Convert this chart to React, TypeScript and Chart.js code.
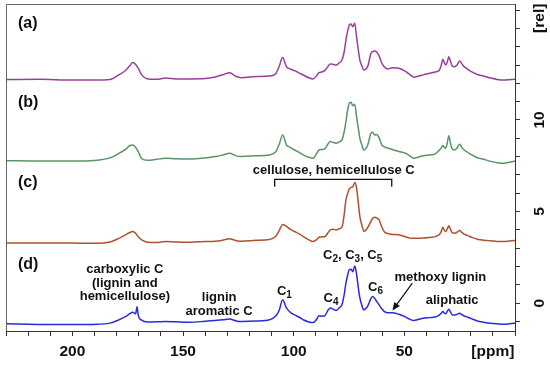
import React, { useEffect, useRef } from 'react';
import { Chart, registerables } from 'chart.js';

Chart.register(...registerables);

const FONT = "'Liberation Sans', Arial, sans-serif";

// chemical shift grid (ppm)
const ppm = [230, 215, 200, 190, 183, 179, 176, 174, 172.7, 171.4, 170.8, 170.2, 168.7, 166, 162, 158, 153, 147, 140, 135.5,
  132, 129, 126, 123.5, 117, 111, 108, 106.5, 105, 103.3, 101.5, 99.6, 97.5, 95.5, 93.5, 91.3, 89.5, 88.6, 87.3, 86,
  84.5, 83.5, 82, 80.8, 79.5, 78.2, 77.2, 76.4, 75.6, 74.9, 74.1, 73.3, 72.4, 71.6, 70.8, 70.1, 69.2, 68.3, 67.3, 66.4,
  65.2, 64.3, 63.4, 62.5, 61.4, 60.2, 59, 57.5, 55.5, 52.5, 49.5, 47.5, 45.7, 43.5, 41.5, 38.5, 36, 34.3, 33.4, 32.6,
  31.9, 31.3, 30.6, 29.9, 29.2, 28.4, 27.3, 26.2, 25, 24, 23, 21.5, 19.5, 17, 14.2, 11, 8, 5, 2.5, 0];

// (a) purple
const traceA = [12.21, 12.22, 12.18, 12.18, 12.21, 12.46, 12.70, 12.97, 13.13, 13.03, 12.92, 12.81, 12.46, 12.24, 12.22, 12.29, 12.24, 12.24, 12.26, 12.35,
  12.47, 12.58, 12.37, 12.31, 12.37, 12.40, 12.54, 12.95, 13.41, 12.91, 12.78, 12.69, 12.56, 12.44, 12.32, 12.24, 12.43, 12.58, 12.62, 12.69,
  12.92, 13.06, 13.03, 13.00, 13.11, 13.27, 13.71, 14.36, 14.86, 15.18, 15.24, 15.09, 15.28, 14.54, 13.82, 13.27, 12.95, 12.73, 12.78, 12.97,
  13.60, 13.74, 13.76, 13.71, 13.49, 13.11, 12.89, 12.78, 12.85, 12.82, 12.65, 12.48, 12.33, 12.40, 12.46, 12.55, 12.62, 12.70, 12.95, 13.31,
  13.11, 13.00, 13.16, 13.45, 13.22, 12.95, 12.91, 13.00, 13.22, 13.06, 12.91, 12.78, 12.62, 12.48, 12.40, 12.29, 12.21, 12.18, 12.20, 12.22];

// (b) green
const traceB = [7.78, 7.76, 7.76, 7.79, 7.93, 8.17, 8.39, 8.61, 8.63, 8.50, 8.39, 8.25, 7.90, 7.80, 7.85, 7.91, 7.88, 7.87, 7.93, 8.00,
  8.09, 8.18, 8.04, 8.01, 8.04, 8.09, 8.28, 8.69, 9.18, 8.64, 8.50, 8.36, 8.23, 8.08, 7.98, 7.91, 8.20, 8.36, 8.39, 8.42,
  8.69, 8.82, 8.77, 8.73, 8.80, 8.91, 9.35, 9.91, 10.55, 10.91, 10.97, 10.78, 10.86, 10.18, 9.56, 9.00, 8.64, 8.36, 8.45, 8.69,
  9.24, 9.33, 9.18, 9.21, 9.02, 8.64, 8.53, 8.47, 8.39, 8.28, 8.18, 8.04, 7.91, 7.98, 8.05, 8.09, 8.15, 8.34, 8.45, 8.60,
  8.50, 8.46, 8.75, 9.14, 8.75, 8.42, 8.36, 8.47, 8.67, 8.50, 8.36, 8.25, 8.09, 7.94, 7.85, 7.74, 7.67, 7.64, 7.69, 7.76];

// (c) brown
const traceC = [3.29, 3.29, 3.28, 3.27, 3.34, 3.54, 3.73, 3.86, 3.91, 3.81, 3.71, 3.62, 3.45, 3.32, 3.31, 3.37, 3.34, 3.33, 3.36, 3.38,
  3.44, 3.51, 3.41, 3.38, 3.43, 3.48, 3.67, 3.97, 4.30, 4.19, 4.03, 3.91, 3.78, 3.62, 3.48, 3.36, 3.48, 3.60, 3.62, 3.63,
  3.84, 4.00, 4.03, 4.00, 4.06, 4.15, 4.82, 5.64, 5.99, 6.24, 6.32, 6.36, 6.58, 6.29, 5.47, 4.72, 4.27, 3.92, 4.00, 4.16,
  4.44, 4.64, 4.69, 4.65, 4.54, 4.16, 3.89, 3.80, 3.75, 3.73, 3.62, 3.55, 3.54, 3.54, 3.55, 3.59, 3.63, 3.73, 3.89, 4.15,
  3.97, 3.91, 4.05, 4.22, 4.05, 3.85, 3.82, 3.87, 3.96, 3.86, 3.77, 3.70, 3.59, 3.49, 3.44, 3.41, 3.37, 3.36, 3.39, 3.42];

// (d) blue
const traceD = [-1.13, -1.16, -1.17, -1.16, -1.09, -0.91, -0.74, -0.57, -0.49, -0.58, -0.19, -0.68, -0.93, -1.03, -1.02, -1.00, -1.02, -1.04, -0.99, -0.95,
  -0.91, -0.86, -0.97, -1.00, -0.98, -0.91, -0.69, -0.37, 0.18, -0.26, -0.50, -0.64, -0.77, -0.92, -1.01, -1.06, -0.86, -0.69, -0.71, -0.69,
  -0.39, -0.27, -0.34, -0.40, -0.26, -0.09, 0.45, 1.09, 1.54, 1.82, 1.85, 1.72, 2.03, 1.60, 0.83, 0.29, -0.12, -0.37, -0.28, -0.12,
  0.23, 0.36, 0.26, 0.10, -0.09, -0.31, -0.46, -0.53, -0.52, -0.61, -0.75, -0.88, -0.95, -0.88, -0.82, -0.79, -0.76, -0.65, -0.56, -0.46,
  -0.55, -0.58, -0.45, -0.33, -0.47, -0.64, -0.65, -0.61, -0.55, -0.63, -0.70, -0.76, -0.86, -0.97, -1.04, -1.10, -1.13, -1.15, -1.12, -1.09];

const seriesNames = ['(a)', '(b)', '(c)', '(d)'];
const seriesColors = ['#96409a', '#5a9466', '#b0502e', '#2a2adc'];

const xTickLabels: Record<number, string> = { 200: '200', 150: '150', 100: '100', 50: '50', 10: '[ppm]' };
const yTickLabels: [number, string][] = [[0, '0'], [5, '5'], [10, '10'], [15.55, '[rel]']];

// annotations in data coordinates (ppm, intensity of baseline)
const annotations: { text: string; x: number; y: number; size: number; align: 'left' | 'center' }[] = [
  { text: '(a)', x: 224.6, y: 15.02, size: 16, align: 'left' },
  { text: '(b)', x: 224.6, y: 10.73, size: 16, align: 'left' },
  { text: '(c)', x: 224.6, y: 6.34, size: 16, align: 'left' },
  { text: '(d)', x: 224.6, y: 1.87, size: 16, align: 'left' },
  { text: 'cellulose, hemicellulose C', x: 81.9, y: 7.03, size: 13, align: 'center' },
  { text: 'carboxylic C', x: 176.3, y: 1.63, size: 13, align: 'center' },
  { text: '(lignin and', x: 176.3, y: 0.89, size: 13, align: 'center' },
  { text: 'hemicellulose)', x: 176.3, y: 0.15, size: 13, align: 'center' },
  { text: 'lignin', x: 133.7, y: 0.10, size: 13, align: 'center' },
  { text: 'aromatic C', x: 133.7, y: -0.67, size: 13, align: 'center' },
  { text: 'C_1', x: 104.2, y: 0.45, size: 13, align: 'center' },
  { text: 'C_4', x: 83.1, y: 0.04, size: 13, align: 'center' },
  { text: 'C_2, C_3, C_5', x: 73.35, y: 2.39, size: 13, align: 'center' },
  { text: 'C_6', x: 63.0, y: 0.67, size: 13, align: 'center' },
  { text: 'methoxy lignin', x: 33.7, y: 1.22, size: 13, align: 'center' },
  { text: 'aliphatic', x: 28.4, y: -0.04, size: 13, align: 'center' },
];
const bracket = { from: 108.6, to: 55.7, top: 6.76, bottom: 6.36 };
const arrow = { x1: 46.4, y1: 1.09, x2: 55.4, y2: -0.40 };

function drawRich(ctx: CanvasRenderingContext2D, text: string, x: number, by: number, size: number, align: string) {
  const segs: { t: string; sub: boolean }[] = [];
  const re = /_(\d)/g;
  let last = 0;
  let m: RegExpExecArray | null;
  while ((m = re.exec(text))) {
    if (m.index > last) segs.push({ t: text.slice(last, m.index), sub: false });
    segs.push({ t: m[1], sub: true });
    last = re.lastIndex;
  }
  if (last < text.length) segs.push({ t: text.slice(last), sub: false });
  const subSize = Math.round(size * 0.77);
  const fontOf = (s: { sub: boolean }) => `bold ${s.sub ? subSize : size}px ${FONT}`;
  const widths = segs.map((s) => { ctx.font = fontOf(s); return ctx.measureText(s.t).width; });
  const total = widths.reduce((a, b) => a + b, 0);
  let cx = align === 'left' ? x : x - total / 2;
  ctx.textAlign = 'left';
  ctx.textBaseline = 'alphabetic';
  segs.forEach((s, i) => {
    ctx.font = fontOf(s);
    ctx.fillText(s.t, cx, s.sub ? by + 3 : by);
    cx += widths[i];
  });
}

const decorPlugin = {
  id: 'decor',
  afterDraw(chart: any) {
    const { ctx, chartArea, scales } = chart;
    const xs = scales.x;
    const ys = scales.y;
    ctx.save();
    // frame (left and top)
    ctx.strokeStyle = '#666';
    ctx.lineWidth = 1;
    ctx.beginPath();
    ctx.moveTo(chartArea.left + 0.5, chartArea.bottom);
    ctx.lineTo(chartArea.left + 0.5, chartArea.top + 0.5);
    ctx.lineTo(chartArea.right, chartArea.top + 0.5);
    ctx.stroke();

    ctx.fillStyle = '#111';
    // right axis labels, rotated
    ctx.font = `bold 15.5px ${FONT}`;
    yTickLabels.forEach(([v, t]) => {
      const py = ys.getPixelForValue(v);
      ctx.save();
      ctx.translate(chartArea.right + 28.5, py);
      ctx.rotate(-Math.PI / 2);
      ctx.textAlign = 'center';
      ctx.textBaseline = 'alphabetic';
      ctx.fillText(t, 0, 0);
      ctx.restore();
    });

    annotations.forEach((a) => {
      drawRich(ctx, a.text, xs.getPixelForValue(a.x), ys.getPixelForValue(a.y), a.size, a.align);
    });

    // bracket
    ctx.strokeStyle = '#111';
    ctx.lineWidth = 1.3;
    ctx.beginPath();
    ctx.moveTo(xs.getPixelForValue(bracket.from), ys.getPixelForValue(bracket.bottom));
    ctx.lineTo(xs.getPixelForValue(bracket.from), ys.getPixelForValue(bracket.top));
    ctx.lineTo(xs.getPixelForValue(bracket.to), ys.getPixelForValue(bracket.top));
    ctx.lineTo(xs.getPixelForValue(bracket.to), ys.getPixelForValue(bracket.bottom));
    ctx.stroke();

    // arrow
    const ax1 = xs.getPixelForValue(arrow.x1), ay1 = ys.getPixelForValue(arrow.y1);
    const ax2 = xs.getPixelForValue(arrow.x2), ay2 = ys.getPixelForValue(arrow.y2);
    const ang = Math.atan2(ay2 - ay1, ax2 - ax1);
    const hl = 8, hw = 3.5;
    ctx.lineWidth = 1.2;
    ctx.beginPath();
    ctx.moveTo(ax1, ay1);
    ctx.lineTo(ax2 - Math.cos(ang) * hl * 0.8, ay2 - Math.sin(ang) * hl * 0.8);
    ctx.stroke();
    ctx.beginPath();
    ctx.moveTo(ax2, ay2);
    ctx.lineTo(ax2 - Math.cos(ang) * hl + Math.sin(ang) * hw, ay2 - Math.sin(ang) * hl - Math.cos(ang) * hw);
    ctx.lineTo(ax2 - Math.cos(ang) * hl - Math.sin(ang) * hw, ay2 - Math.sin(ang) * hl + Math.cos(ang) * hw);
    ctx.closePath();
    ctx.fill();
    ctx.restore();
  },
};

export default function App() {
  const ref = useRef<HTMLCanvasElement>(null);
  useEffect(() => {
    document.body.style.margin = '0';
    const traces = [traceA, traceB, traceC, traceD];
    const chart = new Chart(ref.current!, {
      type: 'line',
      data: {
        datasets: traces.map((t, i) => ({
          label: seriesNames[i],
          data: ppm.map((p, j) => ({ x: p, y: t[j] })),
          borderColor: seriesColors[i],
          borderWidth: 1.5,
          pointRadius: 0,
          fill: false,
          cubicInterpolationMode: 'monotone' as const,
        })),
      },
      options: {
        responsive: false,
        animation: false,
        devicePixelRatio: 1,
        layout: { padding: { left: 3, top: 4, right: 0, bottom: 0 } },
        plugins: { legend: { display: false }, tooltip: { enabled: false } },
        scales: {
          x: {
            type: 'linear',
            min: 0,
            max: 230,
            reverse: true,
            position: 'bottom',
            afterFit: (s: any) => { s.height = 37; },
            grid: { display: true, drawOnChartArea: false, drawTicks: true, tickLength: 5, color: '#333' },
            border: { display: true, color: '#333', width: 1 },
            ticks: {
              stepSize: 10,
              autoSkip: false,
              maxRotation: 0,
              minRotation: 0,
              maxTicksLimit: 1000,
              padding: 6,
              color: '#111',
              font: { family: FONT, size: 15.5, weight: 'bold' },
              callback: (v: any) => xTickLabels[Math.round(Number(v))] ?? '',
            },
          },
          y: {
            type: 'linear',
            position: 'right',
            min: -1.52,
            max: 16.33,
            afterFit: (s: any) => { s.width = 35; },
            grid: { display: true, drawOnChartArea: false, drawTicks: true, tickLength: 5, color: '#333' },
            border: { display: true, color: '#333', width: 1 },
            ticks: { stepSize: 1, display: false, includeBounds: false, maxTicksLimit: 1000 },
          },
        },
      },
      plugins: [decorPlugin],
    } as any);
    return () => chart.destroy();
  }, []);
  return (
    <div style={{ position: 'absolute', left: 0, top: 0, width: 550, height: 368, background: '#fff' }}>
      <canvas ref={ref} width={550} height={368} style={{ display: 'block' }} />
    </div>
  );
}
